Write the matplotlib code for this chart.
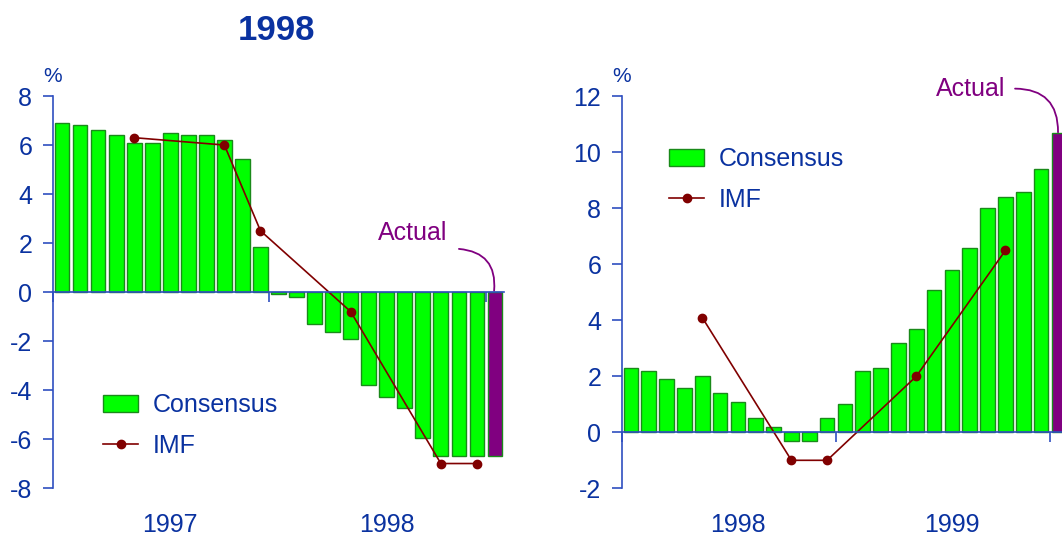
import matplotlib
matplotlib.use('Agg')
import matplotlib.pyplot as plt

plt.rcParams['font.family'] = ['Liberation Sans', 'DejaVu Sans']
plt.rcParams['axes.unicode_minus'] = False

# Consensus forecasts by month (Jan of year before .. Dec of target year)
cons_98 = [6.9, 6.8, 6.6, 6.4, 6.1, 6.1, 6.5, 6.4, 6.4, 6.2, 5.45, 1.85,
           -0.1, -0.2, -1.3, -1.65, -1.9, -3.8, -4.3, -4.75, -5.95, -6.7, -6.7, -6.7]
actual_98 = -6.7
cons_99 = [2.3, 2.2, 1.9, 1.6, 2.0, 1.4, 1.1, 0.5, 0.2, -0.3, -0.3, 0.5,
           1.0, 2.2, 2.3, 3.2, 3.7, 5.1, 5.8, 6.6, 8.0, 8.4, 8.6, 9.4]
actual_99 = 10.7

# IMF forecasts (month index, value)
imf_idx_98 = [4, 9, 11, 16, 21, 23]
imf_98 = [6.3, 6.0, 2.5, -0.8, -7.0, -7.0]
imf_idx_99 = [4, 9, 11, 16, 21]
imf_99 = [4.1, -1.0, -1.0, 2.0, 6.5]

years_98 = ['1997', '1998']
years_99 = ['1998', '1999']

blue = '#0a32a0'
axblue = '#2f4fc0'
green = '#00ff00'
edge = '#1a8a1a'
purple = '#800080'
red = '#800000'

fig = plt.figure(figsize=(10.62, 5.38), dpi=100)
ax1 = fig.add_axes([0.0499, 0.0929, 0.4247, 0.7286])
ax2 = fig.add_axes([0.5857, 0.0924, 0.4198, 0.7283])


def panel(ax, cons, actual, imf_idx, imf, years, ylim, ystep):
    n = len(cons)
    bars = ax.bar(range(n), cons, width=0.82, color=green, edgecolor=edge,
                  linewidth=1, label='Consensus', zorder=2)
    ax.bar([n], [actual], width=0.82, color=purple, edgecolor=edge,
           linewidth=1, zorder=2)
    line, = ax.plot(imf_idx, imf, color=red, linewidth=1.2, marker='o',
                    markersize=6, label='IMF', zorder=3)
    ax.set_xlim(-0.5, n + 0.5)
    ax.set_ylim(*ylim)
    ax.set_yticks(range(ylim[0], ylim[1] + 1, ystep))
    ax.set_xticks([-0.5, 11.5, 23.5])
    ax.set_xticklabels([])
    for s in ['top', 'right']:
        ax.spines[s].set_visible(False)
    ax.spines['bottom'].set_position(('data', 0))
    ax.spines['bottom'].set_color(axblue)
    ax.spines['left'].set_color(axblue)
    ax.spines['bottom'].set_linewidth(1.2)
    ax.spines['left'].set_linewidth(1.2)
    ax.spines['bottom'].set_zorder(4)
    ax.tick_params(axis='y', colors=axblue, labelcolor=blue, labelsize=18,
                   length=7, width=1.2, pad=8)
    ax.tick_params(axis='x', colors=axblue, length=7, width=1.2)
    trans = ax.get_xaxis_transform()
    ax.text(6, -0.094, years[0], transform=trans, ha='center', va='center',
            fontsize=18, color=blue)
    ax.text(18, -0.094, years[1], transform=trans, ha='center', va='center',
            fontsize=18, color=blue)
    ax.text(0.0, 1.05, '%', transform=ax.transAxes, ha='center', va='center',
            fontsize=15, color=blue)
    return bars, line


h1 = panel(ax1, cons_98, actual_98, imf_idx_98, imf_98, years_98, (-8, 8), 2)
h2 = panel(ax2, cons_99, actual_99, imf_idx_99, imf_99, years_99, (-2, 12), 2)

ax1.legend(h1, ['Consensus', 'IMF'], loc='upper left',
           bbox_to_anchor=(103 / 1062, 1 - 393 / 538),
           bbox_transform=fig.transFigure, frameon=False, fontsize=18,
           labelcolor=blue, handlelength=1.4, handleheight=0.65,
           handletextpad=0.6, labelspacing=0.68, borderpad=0, borderaxespad=0)
ax2.legend(h2, ['Consensus', 'IMF'], loc='upper left',
           bbox_to_anchor=(669 / 1062, 1 - 147 / 538),
           bbox_transform=fig.transFigure, frameon=False, fontsize=18,
           labelcolor=blue, handlelength=1.4, handleheight=0.65,
           handletextpad=0.6, labelspacing=0.68, borderpad=0, borderaxespad=0)

# Actual labels with curved leader lines
ax1.text(19.43, 2.41, 'Actual', ha='center', va='center', fontsize=18,
         color=purple)
ax1.annotate('', xy=(23.95, 0.05), xytext=(22.0, 1.76),
             arrowprops=dict(arrowstyle='-', color=purple, lw=1.3,
                             connectionstyle='arc3,rad=-0.5',
                             shrinkA=0, shrinkB=0))
ax2.text(19.05, 12.26, 'Actual', ha='center', va='center', fontsize=18,
         color=purple, clip_on=False)
ax2.annotate('', xy=(23.95, 10.72), xytext=(21.54, 12.28),
             arrowprops=dict(arrowstyle='-', color=purple, lw=1.3,
                             connectionstyle='arc3,rad=-0.5',
                             shrinkA=0, shrinkB=0), annotation_clip=False)

fig.text(276 / 1062, 1 - 31 / 538, '1998', ha='center', va='center',
         fontsize=25, fontweight='bold', color=blue)

fig.savefig('out.png', dpi=100)
